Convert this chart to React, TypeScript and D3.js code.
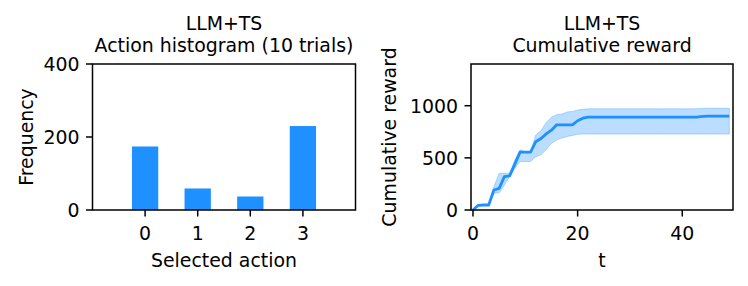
import React from "react";
import * as d3 from "d3";

const actions = [0, 1, 2, 3];
const frequency = [174, 59, 37, 230];
const histTicksY = [0, 200, 400];

const tSteps = d3.range(0, 50);
const meanReward = [
  0, 45, 48, 48, 192, 208, 320, 327, 440, 555,
  555, 555, 655, 685, 730, 765, 817, 817, 817, 817,
  856, 880, 890, 890, 890, 890, 890, 890, 890, 890,
  890, 890, 890, 890, 890, 890, 890, 890, 890, 890,
  890, 890, 890, 892, 898, 900, 900, 900, 900, 900,
];
const lowerReward = [
  0, 40, 44, 44, 160, 165, 240, 318, 400, 465,
  465, 465, 510, 530, 580, 640, 673, 690, 705, 715,
  726, 728, 728, 728, 728, 728, 728, 728, 728, 728,
  728, 728, 728, 728, 728, 728, 728, 728, 728, 728,
  728, 728, 728, 728, 728, 728, 728, 728, 728, 728,
];
const upperReward = [
  0, 50, 52, 52, 225, 352, 352, 350, 480, 577,
  560, 560, 720, 760, 840, 890, 913, 920, 940, 945,
  958, 965, 970, 970, 970, 970, 970, 970, 970, 970,
  970, 970, 970, 970, 970, 970, 970, 970, 970, 970,
  970, 970, 970, 972, 975, 975, 975, 975, 975, 975,
];
const rewardTicksX = [0, 20, 40];
const rewardTicksY = [0, 500, 1000];

const BLUE = "#1E90FF";
const FONT = "DejaVu Sans, sans-serif";
const FS = 18.9;
const TICK = 6.5;
const PAD = 6.5;

export default function App() {
  const W = 748, H = 286;
  const top = 64, bottom = 210;

  // Left: histogram
  const L = { x0: 92.5, x1: 355.5 };
  const xh = d3.scaleLinear().domain([-1, 4]).range([L.x0, L.x1]);
  const yh = d3.scaleLinear().domain([0, 400]).range([bottom, top]);
  const barW = xh(0.5) - xh(0);

  // Right: cumulative reward
  const R = { x0: 471, x1: 733 };
  const xr = d3.scaleLinear().domain([-0.38, 49.7]).range([R.x0, R.x1]);
  const yr = d3.scaleLinear().domain([0, 1400]).range([bottom, top]);

  const area = d3
    .area<number>()
    .x((d) => xr(d))
    .y0((d, i) => yr(lowerReward[i]))
    .y1((d, i) => yr(upperReward[i]));
  const line = d3
    .line<number>()
    .x((d) => xr(d))
    .y((d, i) => yr(meanReward[i]));

  const textStyle = { fontFamily: FONT, fontSize: FS, fill: "#000" } as const;
  const xTickBase = 240;
  const xLabelBase = 266.5;

  return (
    <svg
      width={W}
      height={H}
      style={{ position: "absolute", left: 0, top: 0 }}
      xmlns="http://www.w3.org/2000/svg"
    >
      <rect width={W} height={H} fill="#fff" />

      {/* ===== Left chart ===== */}
      {actions.map((a, i) => (
        <rect
          key={a}
          x={xh(a) - barW / 2}
          y={yh(frequency[i])}
          width={barW}
          height={yh(0) - yh(frequency[i])}
          fill={BLUE}
        />
      ))}
      <rect
        x={L.x0}
        y={top}
        width={L.x1 - L.x0}
        height={bottom - top}
        fill="none"
        stroke="#000"
        strokeWidth={1.5}
      />
      {histTicksY.map((v) => (
        <g key={v}>
          <line x1={L.x0 - TICK} x2={L.x0} y1={yh(v)} y2={yh(v)} stroke="#000" strokeWidth={1.5} />
          <text x={L.x0 - TICK - PAD} y={yh(v)} dy="0.36em" textAnchor="end" style={textStyle}>
            {v}
          </text>
        </g>
      ))}
      {actions.map((a) => (
        <g key={a}>
          <line x1={xh(a)} x2={xh(a)} y1={bottom} y2={bottom + TICK} stroke="#000" strokeWidth={1.5} />
          <text x={xh(a)} y={xTickBase} textAnchor="middle" style={textStyle}>
            {a}
          </text>
        </g>
      ))}
      <text x={(L.x0 + L.x1) / 2} y={xLabelBase} textAnchor="middle" style={textStyle}>
        Selected action
      </text>
      <text
        transform={`translate(33, ${(top + bottom) / 2}) rotate(-90)`}
        textAnchor="middle"
        style={textStyle}
      >
        Frequency
      </text>
      <text x={(L.x0 + L.x1) / 2} y={30} textAnchor="middle" style={textStyle}>
        LLM+TS
      </text>
      <text x={(L.x0 + L.x1) / 2} y={52} textAnchor="middle" style={textStyle}>
        Action histogram (10 trials)
      </text>

      {/* ===== Right chart ===== */}
      <path
        d={area(tSteps) || ""}
        fill={BLUE}
        fillOpacity={0.3}
        stroke={BLUE}
        strokeOpacity={0.3}
        strokeWidth={1}
      />
      <path d={line(tSteps) || ""} fill="none" stroke={BLUE} strokeWidth={2.8} strokeLinejoin="round" />
      <rect
        x={R.x0}
        y={top}
        width={R.x1 - R.x0}
        height={bottom - top}
        fill="none"
        stroke="#000"
        strokeWidth={1.5}
      />
      {rewardTicksY.map((v) => (
        <g key={v}>
          <line x1={R.x0 - TICK} x2={R.x0} y1={yr(v)} y2={yr(v)} stroke="#000" strokeWidth={1.5} />
          <text x={R.x0 - TICK - PAD} y={yr(v)} dy="0.36em" textAnchor="end" style={textStyle}>
            {v}
          </text>
        </g>
      ))}
      {rewardTicksX.map((v) => (
        <g key={v}>
          <line x1={xr(v)} x2={xr(v)} y1={bottom} y2={bottom + TICK} stroke="#000" strokeWidth={1.5} />
          <text x={xr(v)} y={xTickBase} textAnchor="middle" style={textStyle}>
            {v}
          </text>
        </g>
      ))}
      <text x={(R.x0 + R.x1) / 2} y={xLabelBase} textAnchor="middle" style={textStyle}>
        t
      </text>
      <text
        transform={`translate(396, ${(top + bottom) / 2}) rotate(-90)`}
        textAnchor="middle"
        style={textStyle}
      >
        Cumulative reward
      </text>
      <text x={(R.x0 + R.x1) / 2} y={30} textAnchor="middle" style={textStyle}>
        LLM+TS
      </text>
      <text x={(R.x0 + R.x1) / 2} y={52} textAnchor="middle" style={textStyle}>
        Cumulative reward
      </text>
    </svg>
  );
}
